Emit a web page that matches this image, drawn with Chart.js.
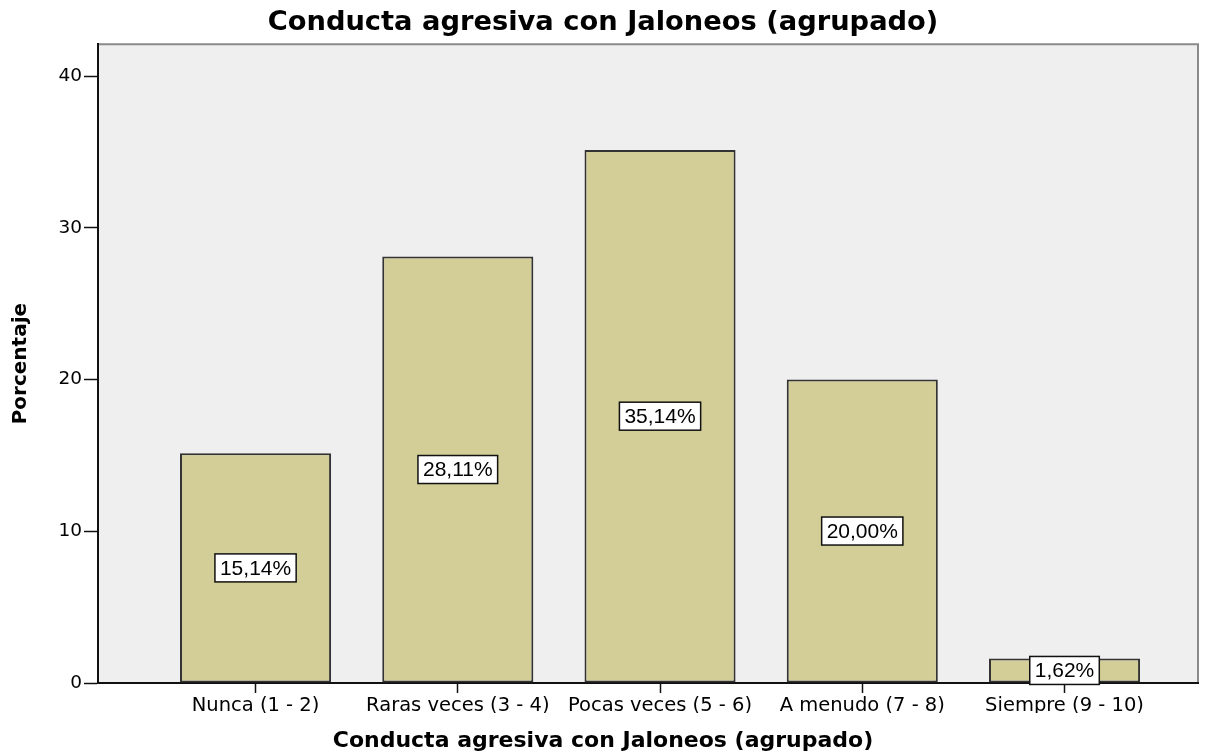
<!DOCTYPE html>
<html>
<head>
<meta charset="utf-8">
<script src="https://cdn.jsdelivr.net/npm/chart.js@4/dist/chart.umd.min.js"></script>
<style>
  html, body { margin: 0; padding: 0; background: #fff; }
  #wrap { width: 1229px; height: 754px; position: relative; }
</style>
</head>
<body>
<div id="wrap"><canvas id="myChart"></canvas></div>
<script>
'use strict';

// datos
var categorias = ['Nunca (1 - 2)', 'Raras veces (3 - 4)', 'Pocas veces (5 - 6)', 'A menudo (7 - 8)', 'Siempre (9 - 10)'];
var porcentajes = [15.14, 28.11, 35.14, 20.00, 1.62];
var yTicks = [0, 10, 20, 30, 40];
var titulo = 'Conducta agresiva con Jaloneos (agrupado)';

Chart.defaults.font.family = 'DejaVu Sans';
Chart.defaults.color = '#000';

// fondo gris del area y marco superior/derecho
var fondoPlugin = {
  id: 'fondo',
  beforeDraw: function(chart) {
    var a = chart.chartArea, ctx = chart.ctx;
    ctx.save();
    ctx.fillStyle = '#efefef';
    ctx.fillRect(a.left, a.top, a.right - a.left, a.bottom - a.top);
    ctx.strokeStyle = '#8a8a8a';
    ctx.lineWidth = 2;
    ctx.beginPath();
    ctx.moveTo(a.left, a.top);
    ctx.lineTo(a.right, a.top);
    ctx.lineTo(a.right, a.bottom);
    ctx.stroke();
    ctx.restore();
  }
};

// etiquetas con caja blanca en el centro de cada barra
var etiquetasPlugin = {
  id: 'etiquetas',
  afterDatasetsDraw: function(chart) {
    var ctx = chart.ctx;
    var meta = chart.getDatasetMeta(0);
    ctx.save();
    ctx.font = '21px "Liberation Sans", Arial, sans-serif';
    ctx.textAlign = 'center';
    ctx.textBaseline = 'middle';
    meta.data.forEach(function(bar, i) {
      var txt = porcentajes[i].toFixed(2).replace('.', ',') + '%';
      var w = ctx.measureText(txt).width + 10;
      var h = 28;
      var cy = (bar.y + bar.base) / 2;
      ctx.fillStyle = '#fff';
      ctx.fillRect(bar.x - w / 2, cy - h / 2, w, h);
      ctx.strokeStyle = '#111';
      ctx.lineWidth = 1.5;
      ctx.strokeRect(bar.x - w / 2, cy - h / 2, w, h);
      ctx.fillStyle = '#000';
      ctx.fillText(txt, bar.x, cy + 1);
    });
    ctx.restore();
  }
};

var ctx = document.getElementById('myChart');

var chart = new Chart(ctx, {
  type: 'bar',
  data: {
    datasets: [{
      label: 'Porcentaje',
      data: porcentajes.map(function(v, i) { return { x: i, y: v }; }),
      backgroundColor: '#d3ce97',
      borderColor: '#333333',
      borderWidth: 2,
      borderSkipped: false,
      categoryPercentage: 1,
      barPercentage: 0.747
    }]
  },
  options: {
    responsive: true,
    maintainAspectRatio: false,
    animation: false,
    layout: { padding: { left: 8, right: 31, top: 0, bottom: 0 } },
    plugins: {
      legend: { display: false },
      tooltip: { enabled: false },
      title: {
        display: true,
        text: titulo,
        color: '#000',
        font: { size: 27.3, weight: 'bold', lineHeight: 1 },
        padding: { top: 9, bottom: 8 }
      },
      subtitle: {
        display: true,
        position: 'bottom',
        text: titulo,
        color: '#000',
        font: { size: 22, weight: 'bold', lineHeight: 1 },
        padding: { top: 17, bottom: 2 }
      }
    },
    scales: {
      x: {
        type: 'linear',
        min: -0.779,
        max: 4.66,
        offset: false,
        afterBuildTicks: function(scale) {
          scale.ticks = categorias.map(function(c, i) { return { value: i }; });
        },
        afterFit: function(scale) { scale.height = 30; },
        ticks: {
          autoSkip: false,
          maxRotation: 0,
          padding: 1,
          font: { size: 19.5 },
          color: '#000',
          callback: function(v) { return categorias[v]; }
        },
        grid: {
          offset: false,
          drawOnChartArea: false,
          drawTicks: true,
          tickLength: 10,
          tickColor: '#111',
          tickWidth: 1.5
        },
        border: { display: true, color: '#111', width: 2 }
      },
      y: {
        min: 0,
        max: 42.1,
        afterBuildTicks: function(scale) {
          scale.ticks = yTicks.map(function(v) { return { value: v }; });
        },
        afterFit: function(scale) { scale.width = 90; },
        ticks: {
          padding: 2,
          font: { size: 18.5 },
          color: '#000'
        },
        grid: {
          drawOnChartArea: false,
          drawTicks: true,
          tickLength: 14,
          tickColor: '#111',
          tickWidth: 1.5
        },
        border: { display: true, color: '#111', width: 2 },
        title: {
          display: true,
          text: 'Porcentaje',
          color: '#000',
          font: { size: 20, weight: 'bold', lineHeight: 1 },
          padding: { top: 3, bottom: 0 }
        }
      }
    }
  },
  plugins: [fondoPlugin, etiquetasPlugin]
});
</script>
</body>
</html>
